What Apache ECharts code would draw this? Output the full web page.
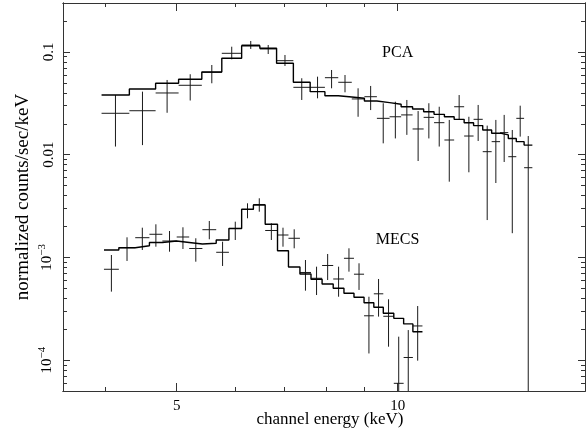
<!DOCTYPE html>
<html>
<head>
<meta charset="utf-8">
<script src="https://cdn.jsdelivr.net/npm/echarts@6/dist/echarts.min.js"></script>
<style>
  html, body { margin: 0; padding: 0; background: #fff; }
  #chart { width: 588px; height: 434px; }
</style>
</head>
<body>
<div id="chart"></div>
<script>
// PCA spectrum: bin edges (keV), data, 1-sigma bounds and folded model
const pcaEdges = [3.95, 4.31, 4.68, 5.03, 5.41, 5.76, 6.13, 6.49, 6.84, 7.21, 7.60, 7.96, 8.30, 8.66, 9.01, 9.37,
  9.75, 10.11, 10.48, 10.85, 11.21, 11.58, 11.94, 12.32, 12.69, 13.06, 13.43, 13.79, 14.15, 14.51, 14.87, 15.26]
const pcaRate = [0.0253, 0.0268, 0.0399, 0.0474, 0.0634, 0.0971, 0.117, 0.107, 0.0823, 0.0453, 0.0453, 0.0562, 0.0507,
  0.0349, 0.0367, 0.0226, 0.0234, 0.0244, 0.0178, 0.0231, 0.0205, 0.0139, 0.0293, 0.0152, 0.0221, 0.0107, 0.0134,
  0.0164, 0.00956, 0.0226, 0.00747]
const pcaHi = [0.0381, 0.0411, 0.0534, 0.0607, 0.0747, 0.1126, 0.128, 0.117, 0.0935, 0.0555, 0.0575, 0.0668, 0.0597,
  0.0443, 0.0467, 0.0317, 0.0328, 0.0341, 0.0266, 0.0317, 0.0293, 0.0218, 0.0381, 0.0234, 0.0305, 0.0192, 0.0218,
  0.0244, 0.0174, 0.0300, 0.0152]
const pcaLo = [0.0120, 0.0124, 0.0256, 0.0337, 0.0496, 0.0849, 0.107, 0.0956, 0.0731, 0.0341, 0.0354, 0.0443, 0.0405,
  0.0234, 0.0272, 0.0129, 0.0144, 0.0156, 0.00868, 0.0144, 0.0120, 0.00546, 0.0218, 0.00674, 0.0136, 0.00231, 0.00530,
  0.00849, 0.00172, 0.0150, 0.00005]
const pcaModel = [0.0381, 0.0436, 0.0496, 0.0542, 0.0639, 0.0868, 0.1152, 0.1087, 0.0776, 0.0507, 0.0411, 0.0375,
  0.0365, 0.0354, 0.0333, 0.0321, 0.0310, 0.0293, 0.0279, 0.0262, 0.0247, 0.0234, 0.0221, 0.0205, 0.0192, 0.0174,
  0.0162, 0.0156, 0.0144, 0.0134, 0.0124]

// MECS spectrum
const mecsEdges = [3.98, 4.17, 4.39, 4.59, 4.78, 5.00, 5.20, 5.42, 5.66, 5.89, 6.13, 6.36, 6.60, 6.86, 7.10, 7.36,
  7.62, 7.89, 8.17, 8.45, 8.72, 9.00, 9.28, 9.56, 9.88, 10.19, 10.49, 10.81]
const mecsRate = [7.66e-4, 1.243e-3, 1.555e-3, 1.679e-3, 1.444e-3, 1.580e-3, 1.221e-3, 1.861e-3, 1.121e-3, 1.912e-3,
  2.927e-3, 3.274e-3, 1.828e-3, 1.652e-3, 1.535e-3, 7.13e-4, 6.26e-4, 8.34e-4, 6.16e-4, 9.80e-4, 6.86e-4, 2.70e-4,
  4.42e-4, 2.67e-4, 5.94e-5, 1.06e-4, 2.15e-4]
const mecsHi = [1.055e-3, 1.569e-3, 1.946e-3, 2.100e-3, 1.807e-3, 1.964e-3, 1.535e-3, 2.262e-3, 1.422e-3, 2.227e-3,
  3.363e-3, 3.762e-3, 2.148e-3, 1.946e-3, 1.878e-3, 9.43e-4, 8.12e-4, 1.079e-3, 8.12e-4, 1.226e-3, 8.76e-4, 4.14e-4,
  6.16e-4, 3.91e-4, 1.69e-4, 1.96e-4, 3.36e-4]
const mecsLo = [4.64e-4, 9.23e-4, 1.181e-3, 1.271e-3, 1.136e-3, 1.207e-3, 9.08e-4, 1.501e-3, 8.25e-4, 1.477e-3,
  2.403e-3, 2.786e-3, 1.477e-3, 1.271e-3, 1.226e-3, 4.74e-4, 4.30e-4, 6.02e-4, 4.14e-4, 7.26e-4, 4.82e-4, 1.16e-4,
  2.65e-4, 1.35e-4, 5e-5, 5e-5, 9.87e-5]
const mecsModel = [1.181e-3, 1.243e-3, 1.300e-3, 1.397e-3, 1.444e-3, 1.397e-3, 1.350e-3, 1.372e-3, 1.477e-3, 1.912e-3,
  2.940e-3, 3.238e-3, 2.100e-3, 1.162e-3, 8.06e-4, 6.89e-4, 6.12e-4, 5.51e-4, 5.00e-4, 4.47e-4, 4.09e-4, 3.62e-4,
  3.27e-4, 2.86e-4, 2.55e-4, 2.25e-4, 1.89e-4]

// axes
const xMin = 3.5
const xMax = 18
const yMin = 5e-5
const yMax = 0.3
const xMajor = [5, 10]
const xMinor = [4, 6, 7, 8, 9]
const yMajor = [1e-4, 1e-3, 0.01, 0.1]
const yMinor = []
for (const dec of [1e-5, 1e-4, 1e-3, 1e-2, 1e-1]) {
  for (let k = 2; k <= 9; k++) {
    const v = k * dec
    if (v > yMin * 0.999 && v < yMax * 1.001) yMinor.push(v)
  }
}

const FONT = 'Liberation Serif'
const frameColor = '#333'
const chart = echarts.init(document.getElementById('chart'))

function xAxisDef (pos, ticks, len, opts = {}) {
  return Object.assign({
    type: 'log', logBase: 10, min: xMin, max: xMax, position: pos,
    axisLine: { show: true, lineStyle: { color: frameColor, width: 1 } },
    axisTick: { show: true, inside: true, length: len, customValues: ticks, lineStyle: { color: frameColor } },
    axisLabel: { show: false },
    splitLine: { show: false },
    minorTick: { show: false }
  }, opts)
}

function yAxisDef (pos, ticks, len, opts = {}) {
  return Object.assign({
    type: 'log', logBase: 10, min: yMin, max: yMax, position: pos,
    axisLine: { show: true, lineStyle: { color: frameColor, width: 1 } },
    axisTick: { show: true, inside: true, length: len, customValues: ticks, lineStyle: { color: frameColor } },
    axisLabel: { show: false },
    splitLine: { show: false },
    minorTick: { show: false }
  }, opts)
}

function crossSeries (edges, rate, lo, hi) {
  const data = rate.map((v, i) => [edges[i], edges[i + 1], v, lo[i], hi[i]])
  return {
    type: 'custom',
    clip: true,
    xAxisIndex: 0,
    yAxisIndex: 0,
    data,
    encode: { x: [0, 1], y: [2, 3, 4] },
    renderItem (params, api) {
      const y = api.value(2)
      const a = api.coord([api.value(0), y])
      const b = api.coord([api.value(1), y])
      const xm = (a[0] + b[0]) / 2
      const top = api.coord([api.value(0), api.value(4)])
      const bot = api.coord([api.value(0), api.value(3)])
      const style = { stroke: '#1a1a1a', lineWidth: 1 }
      return {
        type: 'group',
        children: [
          { type: 'line', shape: { x1: a[0], y1: a[1], x2: b[0], y2: b[1] }, style },
          { type: 'line', shape: { x1: xm, y1: top[1], x2: xm, y2: bot[1] }, style }
        ]
      }
    }
  }
}

function modelSeries (edges, model, tag, where) {
  const data = edges.map((e, i) => [e, model[Math.min(i, model.length - 1)]])
  return {
    type: 'line',
    step: 'end',
    symbol: 'none',
    xAxisIndex: 0,
    yAxisIndex: 0,
    data,
    lineStyle: { color: '#000', width: 1.4 },
    markPoint: {
      symbol: 'circle',
      symbolSize: 0,
      data: [{ coord: where, value: tag }],
      label: { show: true, formatter: tag, color: '#000', fontFamily: FONT, fontSize: 16 }
    }
  }
}

chart.setOption({
  animation: false,
  backgroundColor: '#fff',
  grid: { left: 63, right: 3, top: 3, bottom: 43, containLabel: false, outerBoundsMode: 'none' },
  xAxis: [
    xAxisDef('bottom', xMajor, 8, {
      axisLabel: {
        show: true, customValues: xMajor, margin: 8, color: '#000', fontFamily: FONT, fontSize: 15,
        formatter: v => String(Math.round(v))
      },
      name: 'channel energy (keV)', nameLocation: 'middle', nameGap: 20, nameMoveOverlap: false,
      nameTextStyle: { color: '#000', fontFamily: FONT, fontSize: 17, padding: [0, 0, 0, 12] }
    }),
    xAxisDef('bottom', xMinor, 4),
    xAxisDef('top', xMajor, 8),
    xAxisDef('top', xMinor, 4)
  ],
  yAxis: [
    yAxisDef('left', yMajor, 7, {
      axisLabel: {
        show: true, customValues: yMajor, rotate: 90, margin: 6, color: '#000', fontFamily: FONT, fontSize: 15,
        formatter (v) {
          const p = Math.round(Math.log10(v))
          if (p >= -2) return String(Math.pow(10, p).toFixed(-p))
          return '10{sup|\u2212' + (-p) + '}'
        },
        rich: { sup: { fontSize: 11, fontFamily: FONT, color: '#000', padding: [0, 0, 9, 0] } }
      },
      name: 'normalized counts/sec/keV', nameLocation: 'middle', nameGap: 30, nameMoveOverlap: false,
      nameTextStyle: { color: '#000', fontFamily: FONT, fontSize: 19 }
    }),
    yAxisDef('left', yMinor, 4),
    yAxisDef('right', yMajor, 7),
    yAxisDef('right', yMinor, 4)
  ],
  series: [
    modelSeries(pcaEdges, pcaModel, 'PCA', [10, 0.098]),
    crossSeries(pcaEdges, pcaRate, pcaLo, pcaHi),
    modelSeries(mecsEdges, mecsModel, 'MECS', [10, 1.5e-3]),
    crossSeries(mecsEdges, mecsRate, mecsLo, mecsHi)
  ]
})
</script>
</body>
</html>
